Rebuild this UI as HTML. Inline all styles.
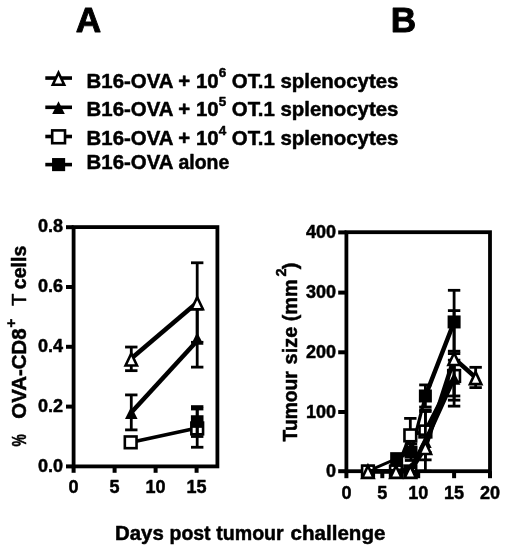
<!DOCTYPE html>
<html><head><meta charset="utf-8"><title>Figure</title>
<style>html,body{margin:0;padding:0;background:#fff}svg{display:block}</style>
</head><body>
<svg width="509" height="550" viewBox="0 0 509 550" font-family="'Liberation Sans', sans-serif" fill="#000">
<rect width="509" height="550" fill="#fff"/>
<style>text{stroke:#000;stroke-width:0.5px;stroke-linejoin:round}</style>
<defs><filter id="soft" x="0" y="0" width="100%" height="100%" filterUnits="userSpaceOnUse"><feGaussianBlur stdDeviation="0.4"/></filter></defs>
<g filter="url(#soft)">
<text x="88.40" y="32.40" font-size="35.2" font-weight="bold" text-anchor="middle" style="stroke-width:0.9px">A</text>
<text x="403.50" y="32.40" font-size="35.2" font-weight="bold" text-anchor="middle" style="stroke-width:0.9px">B</text>
<line x1="45.30" y1="78.05" x2="72.00" y2="78.05" stroke="#000" stroke-width="3.6" stroke-linecap="butt"/>
<polygon points="58.50,72.70 64.20,84.70 52.80,84.70" fill="#fff" stroke="#000" stroke-width="2.6" stroke-linejoin="miter"/>
<text x="86.6" y="87.60" font-size="20.4" font-weight="bold">B16-OVA + 10<tspan dy="-10.3" font-size="13.46">6</tspan><tspan dy="10.3"> OT.1 splenocytes</tspan></text>
<line x1="45.30" y1="107.30" x2="72.00" y2="107.30" stroke="#000" stroke-width="3.6" stroke-linecap="butt"/>
<polygon points="58.50,101.30 64.80,113.90 52.20,113.90" fill="#000"/>
<text x="86.6" y="116.40" font-size="20.4" font-weight="bold">B16-OVA + 10<tspan dy="-10.3" font-size="13.46">5</tspan><tspan dy="10.3"> OT.1 splenocytes</tspan></text>
<line x1="45.30" y1="136.50" x2="72.00" y2="136.50" stroke="#000" stroke-width="3.6" stroke-linecap="butt"/>
<rect x="52.20" y="130.40" width="12.80" height="12.80" fill="#fff" stroke="#000" stroke-width="2.6"/>
<text x="86.6" y="145.10" font-size="20.4" font-weight="bold">B16-OVA + 10<tspan dy="-10.3" font-size="13.46">4</tspan><tspan dy="10.3"> OT.1 splenocytes</tspan></text>
<line x1="45.30" y1="164.60" x2="72.00" y2="164.60" stroke="#000" stroke-width="3.6" stroke-linecap="butt"/>
<rect x="52.05" y="158.05" width="13.10" height="13.10" fill="#000"/>
<text x="86.60" y="169.40" font-size="20.4" font-weight="bold" text-anchor="start" >B16-OVA</text>
<text transform="translate(178.42,169.40) scale(0.955,1)" font-size="20.4" font-weight="bold">alone</text>
<rect x="73.6" y="227.1" width="143.80" height="239.30" fill="none" stroke="#000" stroke-width="3.8"/>
<line x1="66.00" y1="466.40" x2="73.60" y2="466.40" stroke="#000" stroke-width="4.0" stroke-linecap="butt"/>
<text transform="translate(63.10,471.60) scale(0.95,1)" font-size="19" font-weight="bold" text-anchor="end">0.0</text>
<line x1="66.00" y1="406.60" x2="73.60" y2="406.60" stroke="#000" stroke-width="4.0" stroke-linecap="butt"/>
<text transform="translate(63.10,411.80) scale(0.95,1)" font-size="19" font-weight="bold" text-anchor="end">0.2</text>
<line x1="66.00" y1="346.80" x2="73.60" y2="346.80" stroke="#000" stroke-width="4.0" stroke-linecap="butt"/>
<text transform="translate(63.10,352.00) scale(0.95,1)" font-size="19" font-weight="bold" text-anchor="end">0.4</text>
<line x1="66.00" y1="287.00" x2="73.60" y2="287.00" stroke="#000" stroke-width="4.0" stroke-linecap="butt"/>
<text transform="translate(63.10,292.20) scale(0.95,1)" font-size="19" font-weight="bold" text-anchor="end">0.6</text>
<line x1="66.00" y1="227.20" x2="73.60" y2="227.20" stroke="#000" stroke-width="4.0" stroke-linecap="butt"/>
<text transform="translate(63.10,232.40) scale(0.95,1)" font-size="19" font-weight="bold" text-anchor="end">0.8</text>
<line x1="73.60" y1="466.40" x2="73.60" y2="472.80" stroke="#000" stroke-width="4.0" stroke-linecap="butt"/>
<text transform="translate(73.60,492.80) scale(0.95,1)" font-size="19" font-weight="bold" text-anchor="middle">0</text>
<line x1="114.60" y1="466.40" x2="114.60" y2="472.80" stroke="#000" stroke-width="4.0" stroke-linecap="butt"/>
<text transform="translate(114.60,492.80) scale(0.95,1)" font-size="19" font-weight="bold" text-anchor="middle">5</text>
<line x1="155.60" y1="466.40" x2="155.60" y2="472.80" stroke="#000" stroke-width="4.0" stroke-linecap="butt"/>
<text transform="translate(155.60,492.80) scale(0.95,1)" font-size="19" font-weight="bold" text-anchor="middle">10</text>
<line x1="196.60" y1="466.40" x2="196.60" y2="472.80" stroke="#000" stroke-width="4.0" stroke-linecap="butt"/>
<text transform="translate(196.60,492.80) scale(0.95,1)" font-size="19" font-weight="bold" text-anchor="middle">15</text>
<text transform="translate(25.50,446.60) rotate(-90) scale(0.68,1)" font-size="20.4" font-weight="bold">%</text>
<text transform="translate(25.50,418.70) rotate(-90) scale(1.0,1)" font-size="20.4" font-weight="bold">OVA-CD8</text>
<text transform="translate(15.50,327.80) rotate(-90) scale(1.0,1)" font-size="15.5" font-weight="bold">+</text>
<text transform="translate(25.50,305.90) rotate(-90) scale(1.0,1)" font-size="20.4" font-weight="normal">T</text>
<text transform="translate(25.50,289.20) rotate(-90) scale(0.96,1)" font-size="20.4" font-weight="bold">cells</text>
<line x1="131.28" y1="442.33" x2="197.20" y2="427.98" stroke="#000" stroke-width="3.6" stroke-linecap="butt"/>
<line x1="197.20" y1="408.99" x2="197.20" y2="447.26" stroke="#000" stroke-width="2.8" stroke-linecap="butt"/>
<line x1="191.00" y1="408.99" x2="203.40" y2="408.99" stroke="#000" stroke-width="2.8" stroke-linecap="butt"/>
<line x1="191.00" y1="447.26" x2="203.40" y2="447.26" stroke="#000" stroke-width="2.8" stroke-linecap="butt"/>
<rect x="124.83" y="436.48" width="11.70" height="11.70" fill="#fff" stroke="#000" stroke-width="2.6"/>
<rect x="191.35" y="422.58" width="11.70" height="11.70" fill="#fff" stroke="#000" stroke-width="2.6"/>
<line x1="197.20" y1="406.60" x2="197.20" y2="436.50" stroke="#000" stroke-width="2.8" stroke-linecap="butt"/>
<line x1="191.00" y1="406.60" x2="203.40" y2="406.60" stroke="#000" stroke-width="2.8" stroke-linecap="butt"/>
<line x1="191.00" y1="436.50" x2="203.40" y2="436.50" stroke="#000" stroke-width="2.8" stroke-linecap="butt"/>
<rect x="190.90" y="415.25" width="12.60" height="12.60" fill="#000"/>
<line x1="197.20" y1="421.55" x2="197.20" y2="436.50" stroke="#000" stroke-width="2.8" stroke-linecap="butt"/>
<line x1="131.28" y1="412.58" x2="197.20" y2="340.82" stroke="#000" stroke-width="4.5" stroke-linecap="butt"/>
<line x1="131.28" y1="394.91" x2="131.28" y2="429.89" stroke="#000" stroke-width="2.8" stroke-linecap="butt"/>
<line x1="125.08" y1="394.91" x2="137.48" y2="394.91" stroke="#000" stroke-width="2.8" stroke-linecap="butt"/>
<line x1="125.08" y1="429.89" x2="137.48" y2="429.89" stroke="#000" stroke-width="2.8" stroke-linecap="butt"/>
<line x1="197.20" y1="309.13" x2="197.20" y2="367.13" stroke="#000" stroke-width="2.8" stroke-linecap="butt"/>
<line x1="191.00" y1="309.13" x2="203.40" y2="309.13" stroke="#000" stroke-width="2.8" stroke-linecap="butt"/>
<line x1="191.00" y1="367.13" x2="203.40" y2="367.13" stroke="#000" stroke-width="2.8" stroke-linecap="butt"/>
<polygon points="131.28,406.40 137.58,419.00 124.98,419.00" fill="#000"/>
<polygon points="197.20,332.13 203.50,344.73 190.90,344.73" fill="#000"/>
<line x1="131.28" y1="358.46" x2="197.20" y2="302.55" stroke="#000" stroke-width="4.5" stroke-linecap="butt"/>
<line x1="131.28" y1="347.04" x2="131.28" y2="370.66" stroke="#000" stroke-width="2.8" stroke-linecap="butt"/>
<line x1="125.08" y1="347.04" x2="137.48" y2="347.04" stroke="#000" stroke-width="2.8" stroke-linecap="butt"/>
<line x1="125.08" y1="370.66" x2="137.48" y2="370.66" stroke="#000" stroke-width="2.8" stroke-linecap="butt"/>
<line x1="197.20" y1="262.78" x2="197.20" y2="342.31" stroke="#000" stroke-width="2.8" stroke-linecap="butt"/>
<line x1="191.00" y1="262.78" x2="203.40" y2="262.78" stroke="#000" stroke-width="2.8" stroke-linecap="butt"/>
<line x1="191.00" y1="342.31" x2="203.40" y2="342.31" stroke="#000" stroke-width="2.8" stroke-linecap="butt"/>
<polygon points="131.28,353.50 136.98,365.50 125.58,365.50" fill="#fff" stroke="#000" stroke-width="2.6" stroke-linejoin="miter"/>
<polygon points="197.20,297.20 202.90,309.20 191.50,309.20" fill="#fff" stroke="#000" stroke-width="2.6" stroke-linejoin="miter"/>
<rect x="346.4" y="232.2" width="143.60" height="239.00" fill="none" stroke="#000" stroke-width="3.8"/>
<line x1="338.20" y1="471.20" x2="346.40" y2="471.20" stroke="#000" stroke-width="4.0" stroke-linecap="butt"/>
<text transform="translate(336.00,477.00) scale(0.95,1)" font-size="19" font-weight="bold" text-anchor="end">0</text>
<line x1="338.20" y1="412.00" x2="346.40" y2="412.00" stroke="#000" stroke-width="4.0" stroke-linecap="butt"/>
<text transform="translate(336.00,417.80) scale(0.95,1)" font-size="19" font-weight="bold" text-anchor="end">100</text>
<line x1="338.20" y1="352.30" x2="346.40" y2="352.30" stroke="#000" stroke-width="4.0" stroke-linecap="butt"/>
<text transform="translate(336.00,358.10) scale(0.95,1)" font-size="19" font-weight="bold" text-anchor="end">200</text>
<line x1="338.20" y1="292.60" x2="346.40" y2="292.60" stroke="#000" stroke-width="4.0" stroke-linecap="butt"/>
<text transform="translate(336.00,298.40) scale(0.95,1)" font-size="19" font-weight="bold" text-anchor="end">300</text>
<line x1="338.20" y1="232.40" x2="346.40" y2="232.40" stroke="#000" stroke-width="4.0" stroke-linecap="butt"/>
<text transform="translate(336.00,238.20) scale(0.95,1)" font-size="19" font-weight="bold" text-anchor="end">400</text>
<line x1="346.40" y1="471.20" x2="346.40" y2="478.20" stroke="#000" stroke-width="4.0" stroke-linecap="butt"/>
<text transform="translate(346.40,499.40) scale(0.95,1)" font-size="19" font-weight="bold" text-anchor="middle">0</text>
<line x1="382.30" y1="471.20" x2="382.30" y2="478.20" stroke="#000" stroke-width="4.0" stroke-linecap="butt"/>
<text transform="translate(382.30,499.40) scale(0.95,1)" font-size="19" font-weight="bold" text-anchor="middle">5</text>
<line x1="418.20" y1="471.20" x2="418.20" y2="478.20" stroke="#000" stroke-width="4.0" stroke-linecap="butt"/>
<text transform="translate(418.20,499.40) scale(0.95,1)" font-size="19" font-weight="bold" text-anchor="middle">10</text>
<line x1="454.10" y1="471.20" x2="454.10" y2="478.20" stroke="#000" stroke-width="4.0" stroke-linecap="butt"/>
<text transform="translate(454.10,499.40) scale(0.95,1)" font-size="19" font-weight="bold" text-anchor="middle">15</text>
<line x1="490.00" y1="471.20" x2="490.00" y2="478.20" stroke="#000" stroke-width="4.0" stroke-linecap="butt"/>
<text transform="translate(490.00,499.40) scale(0.95,1)" font-size="19" font-weight="bold" text-anchor="middle">20</text>
<text transform="translate(297.00,441.40) rotate(-90) scale(0.968,1)" font-size="19.9" font-weight="bold">Tumour</text>
<text transform="translate(297.00,364.39) rotate(-90) scale(1.0,1)" font-size="19.9" font-weight="bold">size (mm</text>
<text transform="translate(286.40,276.60) rotate(-90) scale(1.0,1)" font-size="14.6" font-weight="bold">2</text>
<text transform="translate(297.00,269.20) rotate(-90) scale(1.0,1)" font-size="19.9" font-weight="bold">)</text>
<line x1="367.94" y1="471.20" x2="396.66" y2="458.66" stroke="#000" stroke-width="3.0" stroke-linecap="round"/>
<line x1="396.66" y1="458.66" x2="411.02" y2="452.10" stroke="#000" stroke-width="3.0" stroke-linecap="round"/>
<line x1="411.02" y1="452.10" x2="425.38" y2="395.98" stroke="#000" stroke-width="3.2" stroke-linecap="round"/>
<line x1="425.38" y1="395.98" x2="454.10" y2="321.95" stroke="#000" stroke-width="4.5" stroke-linecap="round"/>
<line x1="411.02" y1="443.74" x2="411.02" y2="460.45" stroke="#000" stroke-width="2.8" stroke-linecap="butt"/>
<line x1="404.82" y1="443.74" x2="417.22" y2="443.74" stroke="#000" stroke-width="2.8" stroke-linecap="butt"/>
<line x1="404.82" y1="460.45" x2="417.22" y2="460.45" stroke="#000" stroke-width="2.8" stroke-linecap="butt"/>
<line x1="425.38" y1="384.93" x2="425.38" y2="407.02" stroke="#000" stroke-width="2.8" stroke-linecap="butt"/>
<line x1="419.18" y1="384.93" x2="431.58" y2="384.93" stroke="#000" stroke-width="2.8" stroke-linecap="butt"/>
<line x1="419.18" y1="407.02" x2="431.58" y2="407.02" stroke="#000" stroke-width="2.8" stroke-linecap="butt"/>
<line x1="454.10" y1="290.31" x2="454.10" y2="353.59" stroke="#000" stroke-width="2.8" stroke-linecap="butt"/>
<line x1="447.90" y1="290.31" x2="460.30" y2="290.31" stroke="#000" stroke-width="2.8" stroke-linecap="butt"/>
<line x1="447.90" y1="353.59" x2="460.30" y2="353.59" stroke="#000" stroke-width="2.8" stroke-linecap="butt"/>
<rect x="361.44" y="464.70" width="13.00" height="13.00" fill="#000"/>
<rect x="390.16" y="452.16" width="13.00" height="13.00" fill="#000"/>
<rect x="404.52" y="445.60" width="13.00" height="13.00" fill="#000"/>
<rect x="418.88" y="389.48" width="13.00" height="13.00" fill="#000"/>
<rect x="447.60" y="315.45" width="13.00" height="13.00" fill="#000"/>
<line x1="367.94" y1="471.20" x2="395.96" y2="471.20" stroke="#000" stroke-width="3.6" stroke-linecap="round"/>
<line x1="395.96" y1="471.20" x2="410.32" y2="435.08" stroke="#000" stroke-width="3.6" stroke-linecap="round"/>
<line x1="410.32" y1="435.08" x2="425.38" y2="431.20" stroke="#000" stroke-width="3.6" stroke-linecap="round"/>
<line x1="425.38" y1="431.20" x2="454.10" y2="375.68" stroke="#000" stroke-width="4.5" stroke-linecap="round"/>
<line x1="410.32" y1="418.37" x2="410.32" y2="451.80" stroke="#000" stroke-width="2.8" stroke-linecap="butt"/>
<line x1="404.12" y1="418.37" x2="416.52" y2="418.37" stroke="#000" stroke-width="2.8" stroke-linecap="butt"/>
<line x1="404.12" y1="451.80" x2="416.52" y2="451.80" stroke="#000" stroke-width="2.8" stroke-linecap="butt"/>
<line x1="425.38" y1="410.01" x2="425.38" y2="452.39" stroke="#000" stroke-width="2.8" stroke-linecap="butt"/>
<line x1="419.18" y1="410.01" x2="431.58" y2="410.01" stroke="#000" stroke-width="2.8" stroke-linecap="butt"/>
<line x1="419.18" y1="452.39" x2="431.58" y2="452.39" stroke="#000" stroke-width="2.8" stroke-linecap="butt"/>
<line x1="454.10" y1="351.20" x2="454.10" y2="400.16" stroke="#000" stroke-width="2.8" stroke-linecap="butt"/>
<line x1="447.90" y1="351.20" x2="460.30" y2="351.20" stroke="#000" stroke-width="2.8" stroke-linecap="butt"/>
<line x1="447.90" y1="400.16" x2="460.30" y2="400.16" stroke="#000" stroke-width="2.8" stroke-linecap="butt"/>
<rect x="362.09" y="465.65" width="11.70" height="11.70" fill="#fff" stroke="#000" stroke-width="2.6"/>
<rect x="390.11" y="465.65" width="11.70" height="11.70" fill="#fff" stroke="#000" stroke-width="2.6"/>
<rect x="404.47" y="429.53" width="11.70" height="11.70" fill="#fff" stroke="#000" stroke-width="2.6"/>
<rect x="419.53" y="425.65" width="11.70" height="11.70" fill="#fff" stroke="#000" stroke-width="2.6"/>
<rect x="448.25" y="370.13" width="11.70" height="11.70" fill="#fff" stroke="#000" stroke-width="2.6"/>
<rect x="404.47" y="465.65" width="11.70" height="11.70" fill="#fff" stroke="#000" stroke-width="2.6"/>
<line x1="367.94" y1="471.20" x2="395.96" y2="471.20" stroke="#000" stroke-width="4.5" stroke-linecap="round"/>
<line x1="395.96" y1="471.20" x2="410.32" y2="469.41" stroke="#000" stroke-width="4.5" stroke-linecap="round"/>
<line x1="410.32" y1="469.41" x2="425.38" y2="441.35" stroke="#000" stroke-width="4.5" stroke-linecap="round"/>
<line x1="425.38" y1="441.35" x2="454.10" y2="378.07" stroke="#000" stroke-width="4.5" stroke-linecap="round"/>
<line x1="410.32" y1="467.62" x2="410.32" y2="471.20" stroke="#000" stroke-width="2.8" stroke-linecap="butt"/>
<line x1="404.12" y1="467.62" x2="416.52" y2="467.62" stroke="#000" stroke-width="2.8" stroke-linecap="butt"/>
<line x1="404.12" y1="471.20" x2="416.52" y2="471.20" stroke="#000" stroke-width="2.8" stroke-linecap="butt"/>
<line x1="425.38" y1="411.50" x2="425.38" y2="471.20" stroke="#000" stroke-width="2.8" stroke-linecap="butt"/>
<line x1="419.18" y1="411.50" x2="431.58" y2="411.50" stroke="#000" stroke-width="2.8" stroke-linecap="butt"/>
<line x1="419.18" y1="471.20" x2="431.58" y2="471.20" stroke="#000" stroke-width="2.8" stroke-linecap="butt"/>
<line x1="454.10" y1="360.16" x2="454.10" y2="395.98" stroke="#000" stroke-width="2.8" stroke-linecap="butt"/>
<line x1="447.90" y1="360.16" x2="460.30" y2="360.16" stroke="#000" stroke-width="2.8" stroke-linecap="butt"/>
<line x1="447.90" y1="395.98" x2="460.30" y2="395.98" stroke="#000" stroke-width="2.8" stroke-linecap="butt"/>
<polygon points="367.94,465.20 374.24,477.80 361.64,477.80" fill="#000"/>
<polygon points="395.96,465.20 402.26,477.80 389.66,477.80" fill="#000"/>
<polygon points="410.32,463.41 416.62,476.01 404.02,476.01" fill="#000"/>
<polygon points="425.38,435.35 431.68,447.95 419.08,447.95" fill="#000"/>
<polygon points="454.10,372.07 460.40,384.67 447.80,384.67" fill="#000"/>
<line x1="367.94" y1="471.20" x2="395.96" y2="471.20" stroke="#000" stroke-width="4.5" stroke-linecap="round"/>
<line x1="395.96" y1="471.20" x2="410.32" y2="471.20" stroke="#000" stroke-width="4.5" stroke-linecap="round"/>
<line x1="410.32" y1="471.20" x2="425.38" y2="447.32" stroke="#000" stroke-width="4.5" stroke-linecap="round"/>
<line x1="425.38" y1="447.32" x2="454.10" y2="358.37" stroke="#000" stroke-width="4.5" stroke-linecap="round"/>
<line x1="454.10" y1="358.37" x2="475.64" y2="377.47" stroke="#000" stroke-width="4.5" stroke-linecap="round"/>
<line x1="425.38" y1="434.78" x2="425.38" y2="459.86" stroke="#000" stroke-width="2.8" stroke-linecap="butt"/>
<line x1="419.18" y1="434.78" x2="431.58" y2="434.78" stroke="#000" stroke-width="2.8" stroke-linecap="butt"/>
<line x1="419.18" y1="459.86" x2="431.58" y2="459.86" stroke="#000" stroke-width="2.8" stroke-linecap="butt"/>
<line x1="454.10" y1="310.61" x2="454.10" y2="406.13" stroke="#000" stroke-width="2.8" stroke-linecap="butt"/>
<line x1="447.90" y1="310.61" x2="460.30" y2="310.61" stroke="#000" stroke-width="2.8" stroke-linecap="butt"/>
<line x1="447.90" y1="406.13" x2="460.30" y2="406.13" stroke="#000" stroke-width="2.8" stroke-linecap="butt"/>
<line x1="475.64" y1="367.32" x2="475.64" y2="387.62" stroke="#000" stroke-width="2.8" stroke-linecap="butt"/>
<line x1="469.44" y1="367.32" x2="481.84" y2="367.32" stroke="#000" stroke-width="2.8" stroke-linecap="butt"/>
<line x1="469.44" y1="387.62" x2="481.84" y2="387.62" stroke="#000" stroke-width="2.8" stroke-linecap="butt"/>
<polygon points="367.94,465.85 373.64,477.85 362.24,477.85" fill="#fff" stroke="#000" stroke-width="2.6" stroke-linejoin="miter"/>
<polygon points="395.96,465.85 401.66,477.85 390.26,477.85" fill="#fff" stroke="#000" stroke-width="2.6" stroke-linejoin="miter"/>
<polygon points="410.32,465.85 416.02,477.85 404.62,477.85" fill="#fff" stroke="#000" stroke-width="2.6" stroke-linejoin="miter"/>
<polygon points="425.38,441.97 431.08,453.97 419.68,453.97" fill="#fff" stroke="#000" stroke-width="2.6" stroke-linejoin="miter"/>
<polygon points="454.10,353.02 459.80,365.02 448.40,365.02" fill="#fff" stroke="#000" stroke-width="2.6" stroke-linejoin="miter"/>
<polygon points="475.64,372.12 481.34,384.12 469.94,384.12" fill="#fff" stroke="#000" stroke-width="2.6" stroke-linejoin="miter"/>
<text transform="translate(115.00,539.7) scale(1.0,1)" font-size="20.4" font-weight="bold">Days</text>
<text transform="translate(169.50,539.7) scale(0.955,1)" font-size="20.4" font-weight="bold">post</text>
<text transform="translate(216.20,539.7) scale(0.962,1)" font-size="20.4" font-weight="bold">tumour</text>
<text transform="translate(290.60,539.7) scale(1.008,1)" font-size="20.4" font-weight="bold">challenge</text>
</g>
</svg>
</body></html>
